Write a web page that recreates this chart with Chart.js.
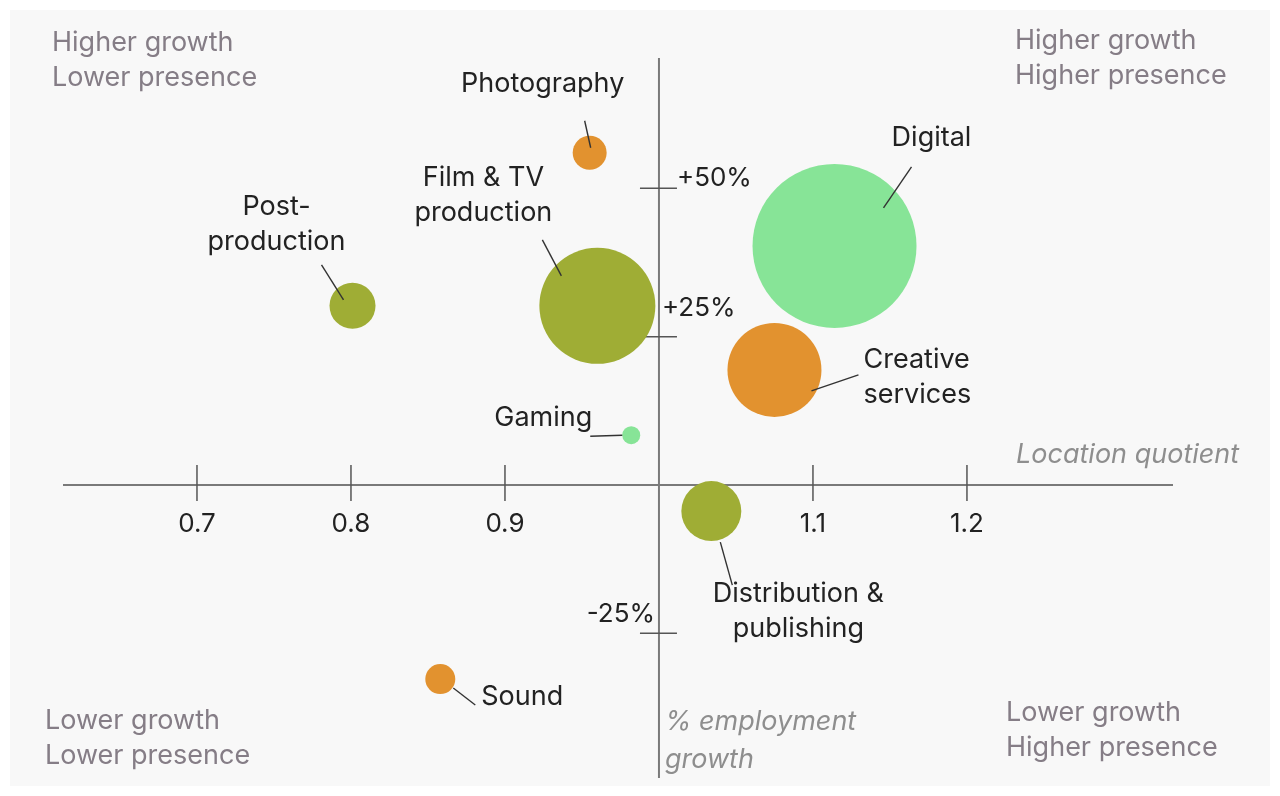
<!DOCTYPE html>
<html>
<head>
<meta charset="utf-8">
<script src="https://cdn.jsdelivr.net/npm/chart.js@4.4.0/dist/chart.umd.min.js"></script>
<style>
  html, body { margin: 0; padding: 0; background: #fff; }
  #wrap { width: 1280px; height: 796px; }
</style>
</head>
<body>
<div id="wrap"><canvas id="chart"></canvas></div>
<script>
// data
const sectors = ['Photography', 'Digital', 'Post-production', 'Film & TV production',
  'Creative services', 'Gaming', 'Distribution & publishing', 'Sound'];
const locationQuotient = [0.955, 1.114, 0.801, 0.96, 1.075, 0.982, 1.034, 0.858];
const employmentGrowth = [56, 40.3, 30.2, 30.2, 19.4, 8.4, -4.4, -32.7];
const sectorSize = [17, 82, 23, 58, 47, 9, 30, 15];
const sectorGroup = ['orange', 'green', 'olive', 'olive', 'orange', 'green', 'olive', 'orange'];

const xTicks = [0.7, 0.8, 0.9, 1.1, 1.2];
const xTickLabels = ['0.7', '0.8', '0.9', '1.1', '1.2'];
const yTicks = [50, 25, -25];
const yTickLabels = ['+50%', '+25%', '-25%'];

// styles
const palette = { orange: '#e2922f', olive: '#9fad35', green: '#87e497' };
const FONT = 'Inter, "Noto Sans", sans-serif';
const ink = '#222';
const quadInk = '#857d86';
const axisInk = '#8e8e8e';

// label placement, relative to the bubble centre (text lines + leader line)
const labelLayout = [
  { lines: ['Photography'], align: 'center', dx: -47, dy: -69, leader: [-5, -32, 1, -5] },
  { lines: ['Digital'], align: 'center', dx: 97, dy: -108, leader: [77, -79, 49, -38] },
  { lines: ['Post-', 'production'], align: 'center', dx: -76, dy: -99, leader: [-31, -41, -9, -6] },
  { lines: ['Film & TV', 'production'], align: 'center', dx: -114, dy: -128, leader: [-55, -66, -36, -30] },
  { lines: ['Creative', 'services'], align: 'left', dx: 89, dy: -10, leader: [84, 5, 37, 21] },
  { lines: ['Gaming'], align: 'right', dx: -39, dy: -17, leader: [-41, 1, -9, 0] },
  { lines: ['Distribution &', 'publishing'], align: 'center', dx: 87, dy: 83, leader: [9, 31, 21, 74] },
  { lines: ['Sound'], align: 'left', dx: 41, dy: 18, leader: [13, 9, 35, 26] }
];

// y tick label offsets from the tick mark
const yTickLabelLayout = [
  { align: 'left', dx: 18, dy: -10 },
  { align: 'left', dx: 3, dy: -28 },
  { align: 'right', dx: -4, dy: -19 }
];

const quadrantLabels = [
  { lines: ['Higher growth', 'Lower presence'], x: 52, y: 43 },
  { lines: ['Higher growth', 'Higher presence'], x: 1015, y: 41 },
  { lines: ['Lower growth', 'Lower presence'], x: 45, y: 721 },
  { lines: ['Lower growth', 'Higher presence'], x: 1006, y: 713 }
];

function strokeLine(ctx, x1, y1, x2, y2) {
  ctx.beginPath();
  ctx.moveTo(x1, y1);
  ctx.lineTo(x2, y2);
  ctx.stroke();
}

// background, quadrant texts and the crossing axes
const quadrantPlugin = {
  id: 'quadrants',
  beforeDraw(chart) {
    const ctx = chart.ctx;
    const xs = chart.scales.x, ys = chart.scales.y;
    const x0 = xs.getPixelForValue(1);
    const y0 = ys.getPixelForValue(0);

    ctx.save();
    ctx.fillStyle = '#fff';
    ctx.fillRect(0, 0, chart.width, chart.height);
    ctx.fillStyle = '#f8f8f8';
    ctx.fillRect(10, 10, chart.width - 20, chart.height - 20);

    ctx.textBaseline = 'middle';
    ctx.textAlign = 'left';
    ctx.font = '27px ' + FONT;
    ctx.fillStyle = quadInk;
    quadrantLabels.forEach(q => {
      q.lines.forEach((t, i) => ctx.fillText(t, q.x, q.y + i * 35));
    });

    // axis titles
    ctx.font = 'italic 27px ' + FONT;
    ctx.fillStyle = axisInk;
    ctx.fillText('Location quotient', 1016, 455);
    ctx.fillText('% employment', x0 + 6, 722);
    ctx.fillText('growth', x0 + 6, 760);

    // axes
    ctx.strokeStyle = '#7a7a7a';
    ctx.lineWidth = 2;
    strokeLine(ctx, xs.left, y0, xs.right, y0);
    strokeLine(ctx, x0, ys.top, x0, ys.bottom);

    // ticks
    ctx.strokeStyle = '#555';
    ctx.lineWidth = 1.5;
    ctx.font = '26px ' + FONT;
    ctx.fillStyle = ink;
    xTicks.forEach((v, i) => {
      const px = xs.getPixelForValue(v);
      strokeLine(ctx, px, y0 - 20, px, y0 + 16);
      ctx.textAlign = 'center';
      ctx.fillText(xTickLabels[i], px, y0 + 39);
    });
    yTicks.forEach((v, i) => {
      const py = ys.getPixelForValue(v);
      strokeLine(ctx, x0 - 19, py, x0 + 18, py);
      const l = yTickLabelLayout[i];
      ctx.textAlign = l.align;
      ctx.fillText(yTickLabels[i], x0 + l.dx, py + l.dy);
    });
    ctx.restore();
  },
  afterDatasetsDraw(chart) {
    const ctx = chart.ctx;
    const meta = chart.getDatasetMeta(0);
    ctx.save();
    ctx.strokeStyle = '#333';
    ctx.lineWidth = 1.4;
    ctx.fillStyle = ink;
    ctx.font = '27px ' + FONT;
    ctx.textBaseline = 'middle';
    meta.data.forEach((pt, i) => {
      const l = labelLayout[i];
      const a = l.leader;
      strokeLine(ctx, pt.x + a[0], pt.y + a[1], pt.x + a[2], pt.y + a[3]);
      ctx.textAlign = l.align;
      l.lines.forEach((t, j) => ctx.fillText(t, pt.x + l.dx, pt.y + l.dy + j * 35));
    });
    ctx.restore();
  }
};

new Chart(document.getElementById('chart'), {
  type: 'bubble',
  data: {
    labels: sectors,
    datasets: [{
      label: 'Sectors',
      data: sectors.map((s, i) => ({ x: locationQuotient[i], y: employmentGrowth[i], r: sectorSize[i] })),
      backgroundColor: sectorGroup.map(g => palette[g]),
      borderWidth: 0,
      clip: false
    }]
  },
  options: {
    responsive: true,
    maintainAspectRatio: false,
    animation: false,
    events: [],
    layout: { autoPadding: false, padding: { left: 63, right: 107, top: 58, bottom: 18 } },
    plugins: { legend: { display: false }, tooltip: { enabled: false } },
    scales: {
      x: { type: 'linear', display: false, min: 0.613, max: 1.3338 },
      y: { type: 'linear', display: false, min: -49.38, max: 71.97 }
    }
  },
  plugins: [quadrantPlugin]
});
</script>
</body>
</html>
